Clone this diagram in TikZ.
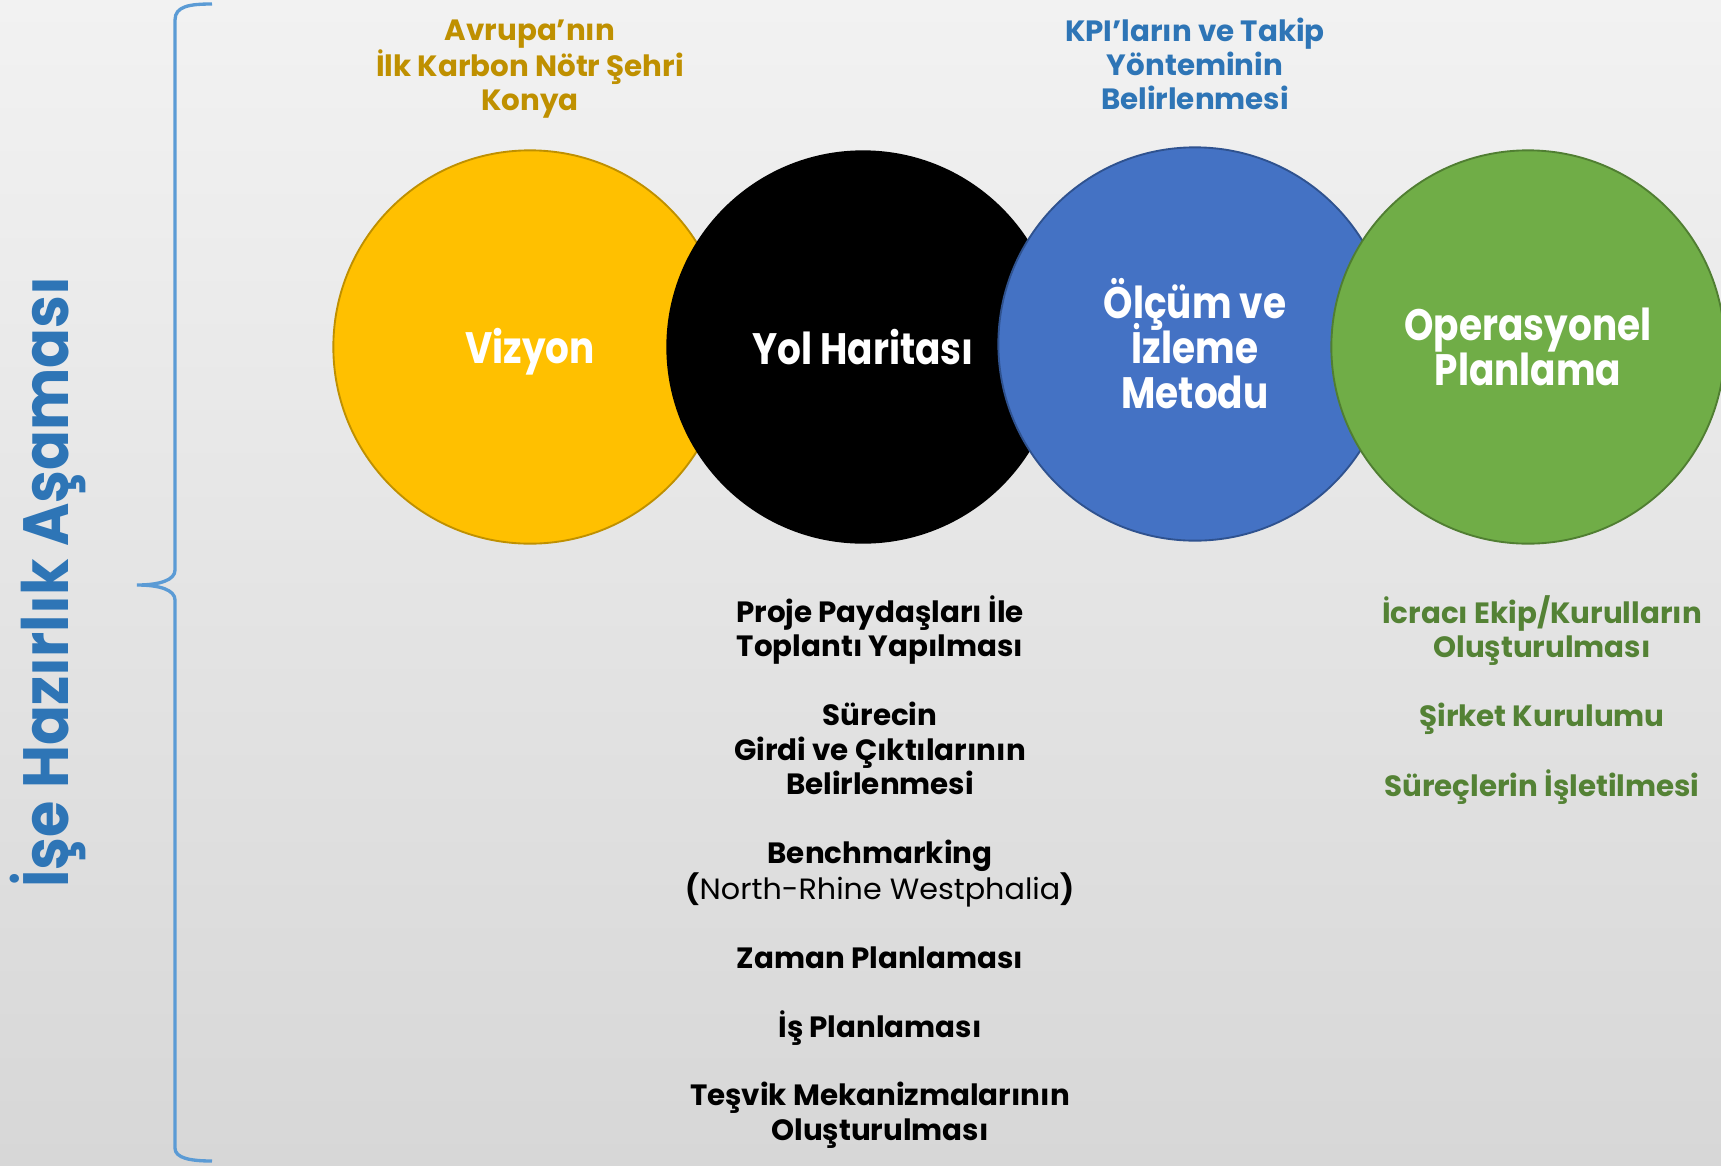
\documentclass[tikz,border=0pt]{standalone}
\usepackage{fontspec}
\setmainfont{Poppins}
\newfontfamily\narrowfont{Poppins}[FakeStretch=0.85]
\newfontfamily\phasefont{Poppins}[FakeStretch=0.92]
\newfontfamily\regfont{Poppins}[FakeStretch=1.03]
\usepackage{xcolor}
\usepackage{tikz}

\newcommand\tightlines{\lineskiplimit=-50pt\relax}

\definecolor{bgtop}{HTML}{F2F2F2}
\definecolor{bgbottom}{HTML}{D7D7D7}
\definecolor{vizyonfill}{HTML}{FFC000}
\definecolor{vizyonline}{HTML}{BF9000}
\definecolor{olcumfill}{HTML}{4472C4}
\definecolor{olcumline}{HTML}{2F528F}
\definecolor{operfill}{HTML}{70AD47}
\definecolor{operline}{HTML}{507E32}
\definecolor{goldtext}{HTML}{BF9000}
\definecolor{bluetext}{HTML}{2E75B6}
\definecolor{greentext}{HTML}{548235}
\definecolor{bracecol}{HTML}{5B9BD5}

\tikzset{
  stage/.style={circle, minimum size=295pt, inner sep=0pt, line width=1.4pt,
    text=white, align=center,
    font=\narrowfont\bfseries\fontsize{33}{33.75}\selectfont\tightlines},
  note/.style={align=center, font=\bfseries\fontsize{22}{25.5}\selectfont},
  steps/.style={align=center, font=\bfseries\fontsize{22}{25.8}\selectfont},
}

\begin{document}
\begin{tikzpicture}[x=0.75pt, y=-0.75pt]
    % Background
    \shade[top color=bgtop, bottom color=bgbottom] (0,0) rectangle (1721,1165);
    \useasboundingbox (0,0) rectangle (1721,1165);

    % Phase label and brace
    \node[rotate=90, text=bluetext, font=\phasefont\bfseries\fontsize{48}{50}\selectfont] (phase) at (48,582) {İşe Hazırlık Aşaması};
    \draw[bracecol, line width=2.5pt] (212,4) .. controls (190,4) and (175,6) .. (175,20) -- (175,570)
      .. controls (175,580) and (160,585) .. (137,585)
      .. controls (160,585) and (175,590) .. (175,600) -- (175,1148)
      .. controls (175,1158) and (190,1161) .. (212,1161);

    % Stages
    \node[stage, fill=vizyonfill, draw=vizyonline] (vizyon) at (530,347) {\vphantom{Yl}\smash{Vizyon}};
    \node[stage, fill=black] (yol) at (863,347) {Yol Haritası};
    \node[stage, fill=olcumfill, draw=olcumline] (olcum) at (1195,344) {Ölçüm ve\\İzleme\\Metodu};
    \node[stage, fill=operfill, draw=operline] (oper) at (1528,347) {Operasyonel\\Planlama};

    % Notes above
    \node[note, text=goldtext] (vizyontop) at (530,69) {Avrupa’nın\\İlk Karbon Nötr Şehri\\Konya};
    \node[note, text=bluetext] (olcumtop) at (1195,64) {KPI’ların ve Takip\\Yönteminin\\Belirlenmesi};

    % Steps below
    \node[steps, text=black] (yolsteps) at (880,872) {Proje Paydaşları İle\\Toplantı Yapılması\\[25.8pt]
      Sürecin\\Girdi ve Çıktılarının\\Belirlenmesi\\[25.8pt]
      Benchmarking\\({\regfont\mdseries North-Rhine Westphalia})\\[25.8pt]
      Zaman Planlaması\\[25.8pt]
      İş Planlaması\\[25.8pt]
      Teşvik Mekanizmalarının\\Oluşturulması};
    \node[steps, text=greentext] (opersteps) at (1542,700) {İcracı Ekip/Kurulların\\Oluşturulması\\[25.8pt]
      Şirket Kurulumu\\[25.8pt]
      Süreçlerin İşletilmesi};
\end{tikzpicture}
\end{document}
